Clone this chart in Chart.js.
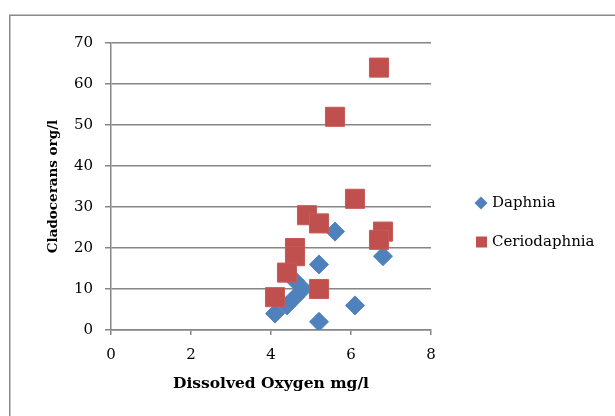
<!DOCTYPE html>
<html>
<head>
<meta charset="utf-8">
<script src="https://cdn.jsdelivr.net/npm/chart.js@4/dist/chart.umd.min.js"></script>
<style>
  html, body { margin: 0; padding: 0; background: #fff; }
  #wrap { width: 615px; height: 416px; }
</style>
</head>
<body>
<div id="wrap"><canvas id="my-chart" width="615" height="416"></canvas></div>
<script>
'use strict';

// ******* DATA *********
let seriesNames = ['Daphnia', 'Ceriodaphnia'];

let daphniaOxygen = [4.1, 4.4, 4.6, 4.8, 4.6, 5.2, 5.6, 6.8, 6.1, 5.2];
let daphniaCount = [4, 6, 8, 10, 12, 16, 24, 18, 6, 2];

let cerioOxygen = [6.7, 5.6, 6.1, 4.9, 5.2, 6.8, 6.7, 4.6, 4.6, 4.4, 5.2, 4.1];
let cerioCount = [64, 52, 32, 28, 26, 24, 22, 20, 18, 14, 10, 8];

let xTicks = [0, 2, 4, 6, 8];
let yTicks = [0, 10, 20, 30, 40, 50, 60, 70];

// ******* STYLE *********
let blue = '#4F81BD';
let red = '#C0504D';
let gridGray = '#868686';
let serif = '"DejaVu Serif", serif';

function toPoints(xs, ys) {
  let pts = [];
  for (let i = 0; i < xs.length; i++) {
    pts.push({ x: xs[i], y: ys[i] });
  }
  return pts;
}

// frame around the whole chart plus the side legend
let framePlugin = {
  id: 'frameAndLegend',
  afterDraw(chart) {
    let c = chart.ctx;
    c.save();
    c.strokeStyle = '#8a8a8a';
    c.lineWidth = 1.5;
    c.strokeRect(9.75, 15.25, 700, 500);

    let sets = chart.data.datasets;
    let rows = [203, 242];
    for (let i = 0; i < sets.length; i++) {
      let y = rows[i];
      c.fillStyle = sets[i].backgroundColor;
      if (sets[i].pointStyle === 'rectRot') {
        c.beginPath();
        c.moveTo(481, y - 6.5);
        c.lineTo(487.5, y);
        c.lineTo(481, y + 6.5);
        c.lineTo(474.5, y);
        c.closePath();
        c.fill();
      } else {
        c.fillRect(476, y - 5.5, 11, 11);
      }
      c.fillStyle = '#000';
      c.font = '15px ' + serif;
      c.textBaseline = 'middle';
      c.textAlign = 'left';
      c.fillText(sets[i].label, 492, y);
    }
    c.restore();
  }
};

let ctx = document.getElementById('my-chart');

let chartObj = {
  type: 'scatter',
  data: {
    datasets: [{
      label: seriesNames[0],
      data: toPoints(daphniaOxygen, daphniaCount),
      pointStyle: 'rectRot',
      pointRadius: 9.5,
      borderWidth: 1,
      backgroundColor: blue,
      borderColor: blue,
      order: 1
    },
    {
      label: seriesNames[1],
      data: toPoints(cerioOxygen, cerioCount),
      pointStyle: 'rect',
      pointRadius: 13.5,
      borderWidth: 1,
      backgroundColor: red,
      borderColor: '#c75a57',
      order: 0
    }]
  },
  options: {
    responsive: false,
    animation: false,
    layout: { padding: { top: 43, right: 184, bottom: 0, left: 0 } },
    plugins: {
      legend: { display: false },
      tooltip: { enabled: false }
    },
    scales: {
      x: {
        type: 'linear',
        min: xTicks[0],
        max: xTicks[xTicks.length - 1],
        afterBuildTicks(scale) {
          scale.ticks = xTicks.map(v => ({ value: v }));
        },
        afterFit(scale) {
          scale.height = 86;
        },
        grid: { drawOnChartArea: false, drawTicks: true, tickLength: 5, color: gridGray, lineWidth: 1.5 },
        border: { color: gridGray, width: 1.5 },
        ticks: { color: '#000', padding: 11, font: { family: serif, size: 15 } },
        title: {
          display: true,
          text: 'Dissolved Oxygen mg/l',
          color: '#000',
          font: { family: serif, size: 15.5, weight: 'bold' },
          padding: { top: 0, bottom: 23 }
        }
      },
      y: {
        type: 'linear',
        min: yTicks[0],
        max: yTicks[yTicks.length - 1],
        afterBuildTicks(scale) {
          scale.ticks = yTicks.map(v => ({ value: v }));
        },
        afterFit(scale) {
          scale.width = 111;
        },
        grid: { drawTicks: true, tickLength: 6, color: gridGray, lineWidth: 1.5 },
        border: { color: gridGray, width: 1.5 },
        ticks: { color: '#000', padding: 12, font: { family: serif, size: 15 } },
        title: {
          display: true,
          text: 'Cladocerans org/l',
          color: '#000',
          font: { family: serif, size: 13.5, weight: 'bold' },
          padding: { top: 45, bottom: 0 }
        }
      }
    }
  },
  plugins: [framePlugin]
};

new Chart(ctx, chartObj); //eslint-disable-line
</script>
</body>
</html>
